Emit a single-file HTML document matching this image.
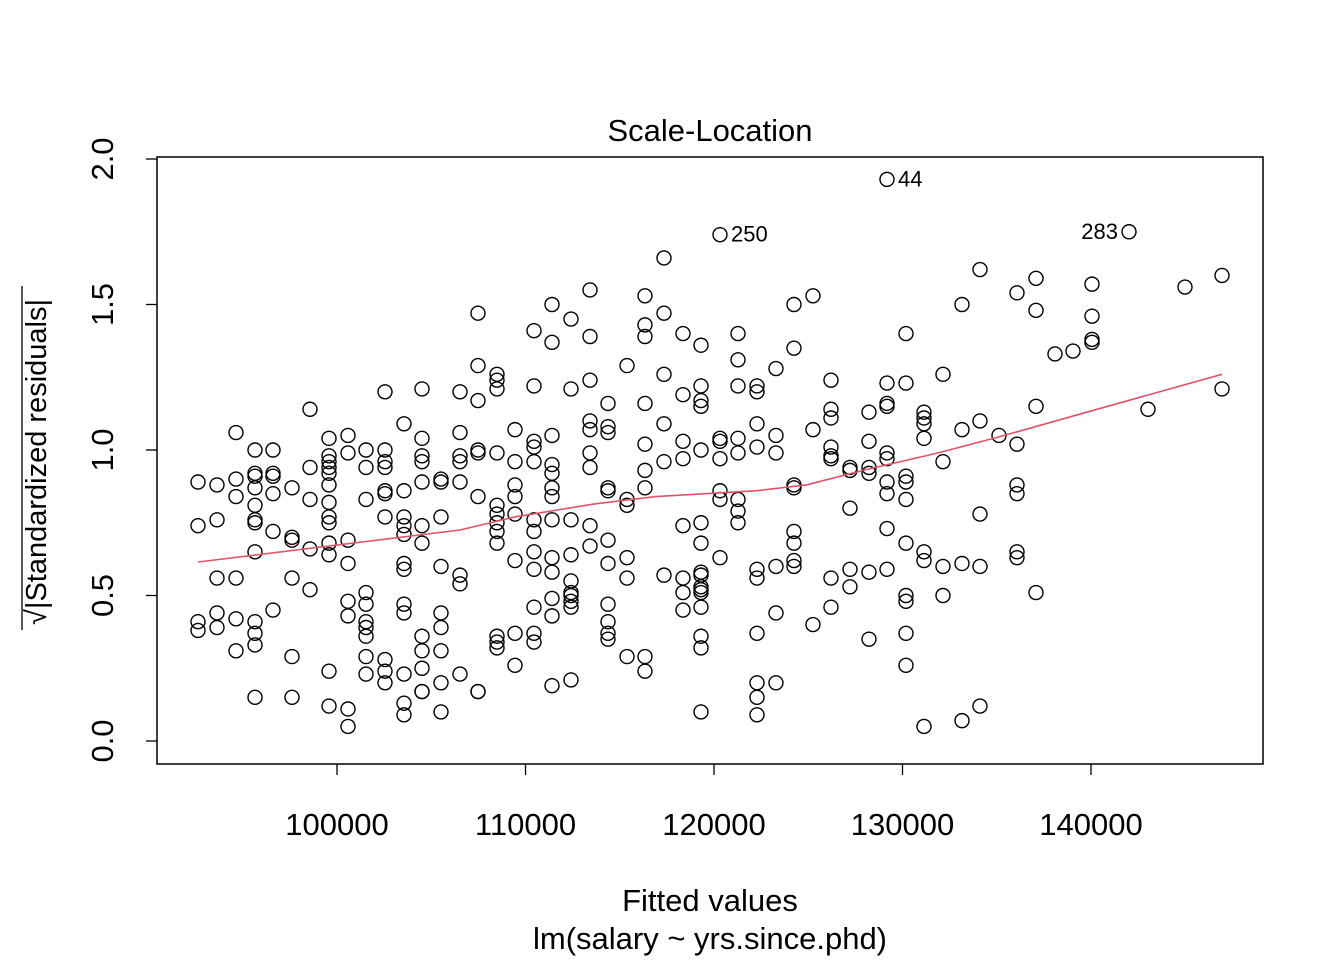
<!DOCTYPE html>
<html><head><meta charset="utf-8"><style>
html,body{margin:0;padding:0;background:#fff;}
svg{display:block;font-family:"Liberation Sans",Arial,sans-serif;}
</style></head><body>
<svg id="chart" width="1344" height="960" viewBox="0 0 1344 960" xmlns="http://www.w3.org/2000/svg">
<rect x="0" y="0" width="1344" height="960" fill="#fff"/>
<text x="710" y="141" font-size="31" text-anchor="middle">Scale-Location</text>
<rect x="157" y="157" width="1106" height="607" fill="none" stroke="#000" stroke-width="1.5"/>
<text x="710" y="911" font-size="31" text-anchor="middle">Fitted values</text>
<text x="710" y="949" font-size="31" text-anchor="middle">lm(salary ~ yrs.since.phd)</text>
<g transform="translate(46,462) rotate(-90)">
<text x="0" y="0" font-size="29" text-anchor="middle">√|Standardized residuals|</text>
</g>
<line x1="22" y1="286" x2="22" y2="630" stroke="#000" stroke-width="1.3"/>
<g id="axes"></g>
<g id="marks"></g>
</svg>
<script>
const xTicks=[100000,110000,120000,130000,140000];
const yTicks=[0.0,0.5,1.0,1.5,2.0];
const colX=[92626,93634,94642,95650,96605,97613,98568,99576,100584,101539,102546,103554,104509,105517,106525,107480,108488,109443,110451,111406,112414,113422,114377,115385,116339,117347,118355,119310,120318,121273,122281,123288,124243,125251,126206,127214,128222,129178,130185,131140,132148,133156,134111,135119,136074,137082,138090,139045,140053,142016,143024,144987,146950];
const colY=[
[0.89,0.74,0.41,0.38],
[0.88,0.76,0.56,0.44,0.39],
[1.06,0.90,0.84,0.56,0.42,0.31],
[1.0,0.92,0.91,0.87,0.81,0.76,0.75,0.65,0.41,0.37,0.33,0.15],
[1.0,0.92,0.91,0.85,0.72,0.45],
[0.87,0.70,0.69,0.56,0.29,0.15],
[1.14,0.94,0.83,0.66,0.52],
[1.04,0.98,0.96,0.94,0.92,0.88,0.82,0.77,0.75,0.68,0.64,0.24,0.12],
[1.05,0.99,0.69,0.61,0.48,0.43,0.11,0.05],
[1.0,0.94,0.83,0.51,0.47,0.41,0.39,0.36,0.29,0.23],
[1.2,1.0,0.96,0.94,0.86,0.85,0.77,0.28,0.24,0.20],
[1.09,0.86,0.77,0.74,0.71,0.61,0.59,0.47,0.44,0.23,0.13,0.09],
[1.21,1.04,0.98,0.96,0.89,0.74,0.68,0.36,0.31,0.25,0.17,0.17],
[0.90,0.89,0.77,0.60,0.44,0.39,0.31,0.20,0.10],
[1.20,1.06,0.98,0.96,0.89,0.57,0.54,0.23],
[1.47,1.29,1.17,1.0,0.99,0.84,0.17,0.17],
[1.26,1.24,1.21,0.99,0.81,0.78,0.75,0.72,0.68,0.36,0.34,0.32],
[1.07,0.96,0.88,0.84,0.78,0.62,0.37,0.26],
[1.41,1.22,1.03,1.01,0.96,0.76,0.72,0.65,0.59,0.46,0.37,0.34],
[1.50,1.37,1.05,0.95,0.92,0.87,0.84,0.76,0.63,0.58,0.49,0.43,0.19],
[1.45,1.21,0.76,0.64,0.55,0.51,0.50,0.48,0.46,0.21],
[1.55,1.39,1.24,1.10,1.07,0.99,0.94,0.74,0.67],
[1.16,1.08,1.06,0.87,0.86,0.69,0.61,0.47,0.41,0.37,0.35],
[1.29,0.83,0.81,0.63,0.56,0.29],
[1.53,1.43,1.39,1.16,1.02,0.93,0.87,0.29,0.24],
[1.66,1.47,1.26,1.09,0.96,0.57],
[1.40,1.19,1.03,0.97,0.74,0.56,0.51,0.45],
[1.36,1.22,1.17,1.15,1.0,0.75,0.68,0.58,0.57,0.53,0.52,0.51,0.46,0.36,0.32,0.10],
[1.74,1.04,1.03,0.97,0.86,0.83,0.63],
[1.40,1.31,1.22,1.04,0.99,0.83,0.79,0.75],
[1.22,1.20,1.09,1.01,0.59,0.56,0.37,0.20,0.15,0.09],
[1.28,1.05,0.99,0.60,0.44,0.20],
[1.50,1.35,0.88,0.87,0.72,0.68,0.62,0.60],
[1.53,1.07,0.40],
[1.24,1.14,1.11,1.01,0.98,0.97,0.56,0.46],
[0.94,0.93,0.80,0.59,0.53],
[1.13,1.03,0.94,0.92,0.58,0.35],
[1.93,1.23,1.16,1.15,0.99,0.97,0.89,0.85,0.73,0.59],
[1.40,1.23,0.91,0.89,0.83,0.68,0.50,0.48,0.37,0.26],
[1.13,1.11,1.09,1.04,0.65,0.62,0.05],
[1.26,0.96,0.60,0.50],
[1.50,1.07,0.61,0.07],
[1.62,1.10,0.78,0.60,0.12],
[1.05],
[1.54,1.02,0.88,0.85,0.65,0.63],
[1.59,1.48,1.15,0.51],
[1.33],
[1.34],
[1.57,1.46,1.38,1.37],
[1.75],
[1.14],
[1.56],
[1.60,1.21]
];
const labelNames=["44","250","283"];
const labelX=[129178,120318,142016];
const labelY=[1.93,1.74,1.75];
const labelSide=[1,1,-1];
const smoothX=[92626,99576,106525,109443,113700,116900,122281,124900,128222,131900,135119,140053,146950];
const smoothY=[0.615,0.67,0.725,0.77,0.815,0.84,0.86,0.88,0.935,0.99,1.045,1.135,1.26];

const NS="http://www.w3.org/2000/svg";
function sx(v){return 337+(v-100000)*(1091-337)/40000;}
function sy(v){return 741-v*(741-159)/2;}
const axes=document.getElementById('axes');
const marks=document.getElementById('marks');
function mk(tag,parent,attrs){const e=document.createElementNS(NS,tag);for(const k in attrs)e.setAttribute(k,attrs[k]);parent.appendChild(e);return e;}
xTicks.forEach(t=>{
  const l=mk('line',axes,{x1:sx(t),x2:sx(t),y1:764,y2:775,stroke:'#000','stroke-width':1.3});
  
  
  const tx=mk('text',axes,{x:sx(t),y:835,'font-size':31,'text-anchor':'middle'});
  tx.textContent=String(t);
  
  
});
yTicks.forEach(t=>{
  const l=mk('line',axes,{x1:146,x2:157,y1:sy(t),y2:sy(t),stroke:'#000','stroke-width':1.3});
  
  
  const tx=mk('text',axes,{x:0,y:0,'font-size':31,'text-anchor':'middle',transform:'translate(113,'+sy(t)+') rotate(-90)'});
  tx.textContent=t.toFixed(1);
  
  
});
colX.forEach((xv,i)=>{
  colY[i].forEach(yv=>{
    const c=mk('circle',marks,{cx:sx(xv),cy:sy(yv),r:7,fill:'none',stroke:'#000','stroke-width':1.4});
    
    
  });
});
let d='';
smoothX.forEach((xv,i)=>{d+=(i?'L':'M')+sx(xv).toFixed(1)+','+sy(smoothY[i]).toFixed(1);});
const p=mk('path',marks,{d:d,fill:'none',stroke:'#DF536B','stroke-width':1.6});


labelNames.forEach((n,i)=>{
  const tx=mk('text',marks,{x:sx(labelX[i])+labelSide[i]*11,y:sy(labelY[i])+7,'font-size':22,'text-anchor':labelSide[i]>0?'start':'end'});
  tx.textContent=n;
  
  
});
</script>
</body></html>
